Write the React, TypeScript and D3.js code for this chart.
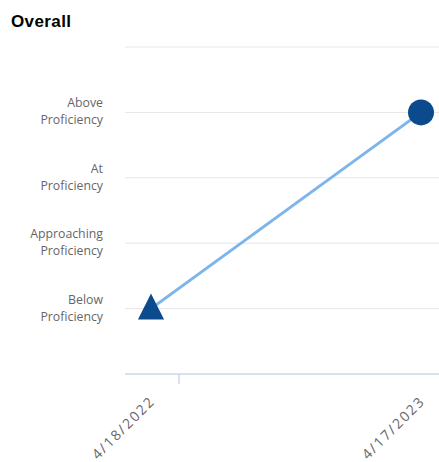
import React from "react";
import * as d3 from "d3";

const categories = ["4/18/2022", "4/17/2023"];
const values = [1, 4];
const levelLabels = [
  ["", ""],
  ["Below", "Proficiency"],
  ["Approaching", "Proficiency"],
  ["At", "Proficiency"],
  ["Above", "Proficiency"],
  ["", ""],
];
const yTicks = [0, 1, 2, 3, 4, 5];

export default function App() {
  const W = 439, H = 462;
  const left = 125, right = 439;
  const y = d3.scaleLinear().domain([0, 5]).range([374, 47]);
  const x = d3.scalePoint<string>().domain(categories).range([151, 421]);
  const pts = categories.map((c, i) => [x(c)!, y(values[i])] as [number, number]);
  const line = d3.line()(pts)!;
  const tri = d3.symbol().type(d3.symbolTriangle).size(390)()!;
  return (
    <svg width={W} height={H} style={{ position: "absolute", left: 0, top: 0, fontFamily: "'Open Sans', 'Liberation Sans', sans-serif" }}>
      <rect width={W} height={H} fill="#fff" />
      <text x={11} y={27} fontFamily="'Liberation Sans', Arial, sans-serif" fontWeight="bold" fontSize={17} letterSpacing={0.4} fill="#000">Overall</text>
      {yTicks.slice(1).map((t) => (
        <line key={t} x1={left} x2={right} y1={y(t)} y2={y(t)} stroke="#e6e6e6" strokeWidth={1} />
      ))}
      {yTicks.map((t) =>
        levelLabels[t][0] ? (
          <text key={t} x={103} y={y(t)} textAnchor="end" fontSize={12.3} fill="#666">
            <tspan x={103} dy={-5}>{levelLabels[t][0]}</tspan>
            <tspan x={103} dy={17}>{levelLabels[t][1]}</tspan>
          </text>
        ) : null
      )}
      <line x1={left} x2={right} y1={y(0)} y2={y(0)} stroke="#ccd6eb" strokeWidth={1.5} />
      <line x1={179} x2={179} y1={y(0)} y2={y(0) + 10} stroke="#ccd6eb" strokeWidth={1.5} />
      {categories.map((c) => (
        <text key={c} transform={`translate(${x(c)! + 5},${y(0) + 28}) rotate(-45)`} textAnchor="end" fontSize={14} letterSpacing={1.8} fill="#666">{c}</text>
      ))}
      <path d={line} fill="none" stroke="#7cb5ec" strokeWidth={3} />
      <path d={tri} transform={`translate(${pts[0][0]},${pts[0][1] + 2.3}) scale(0.87,1)`} fill="#0b4a8c" />
      <circle cx={pts[1][0]} cy={pts[1][1]} r={13} fill="#0b4a8c" />
    </svg>
  );
}
